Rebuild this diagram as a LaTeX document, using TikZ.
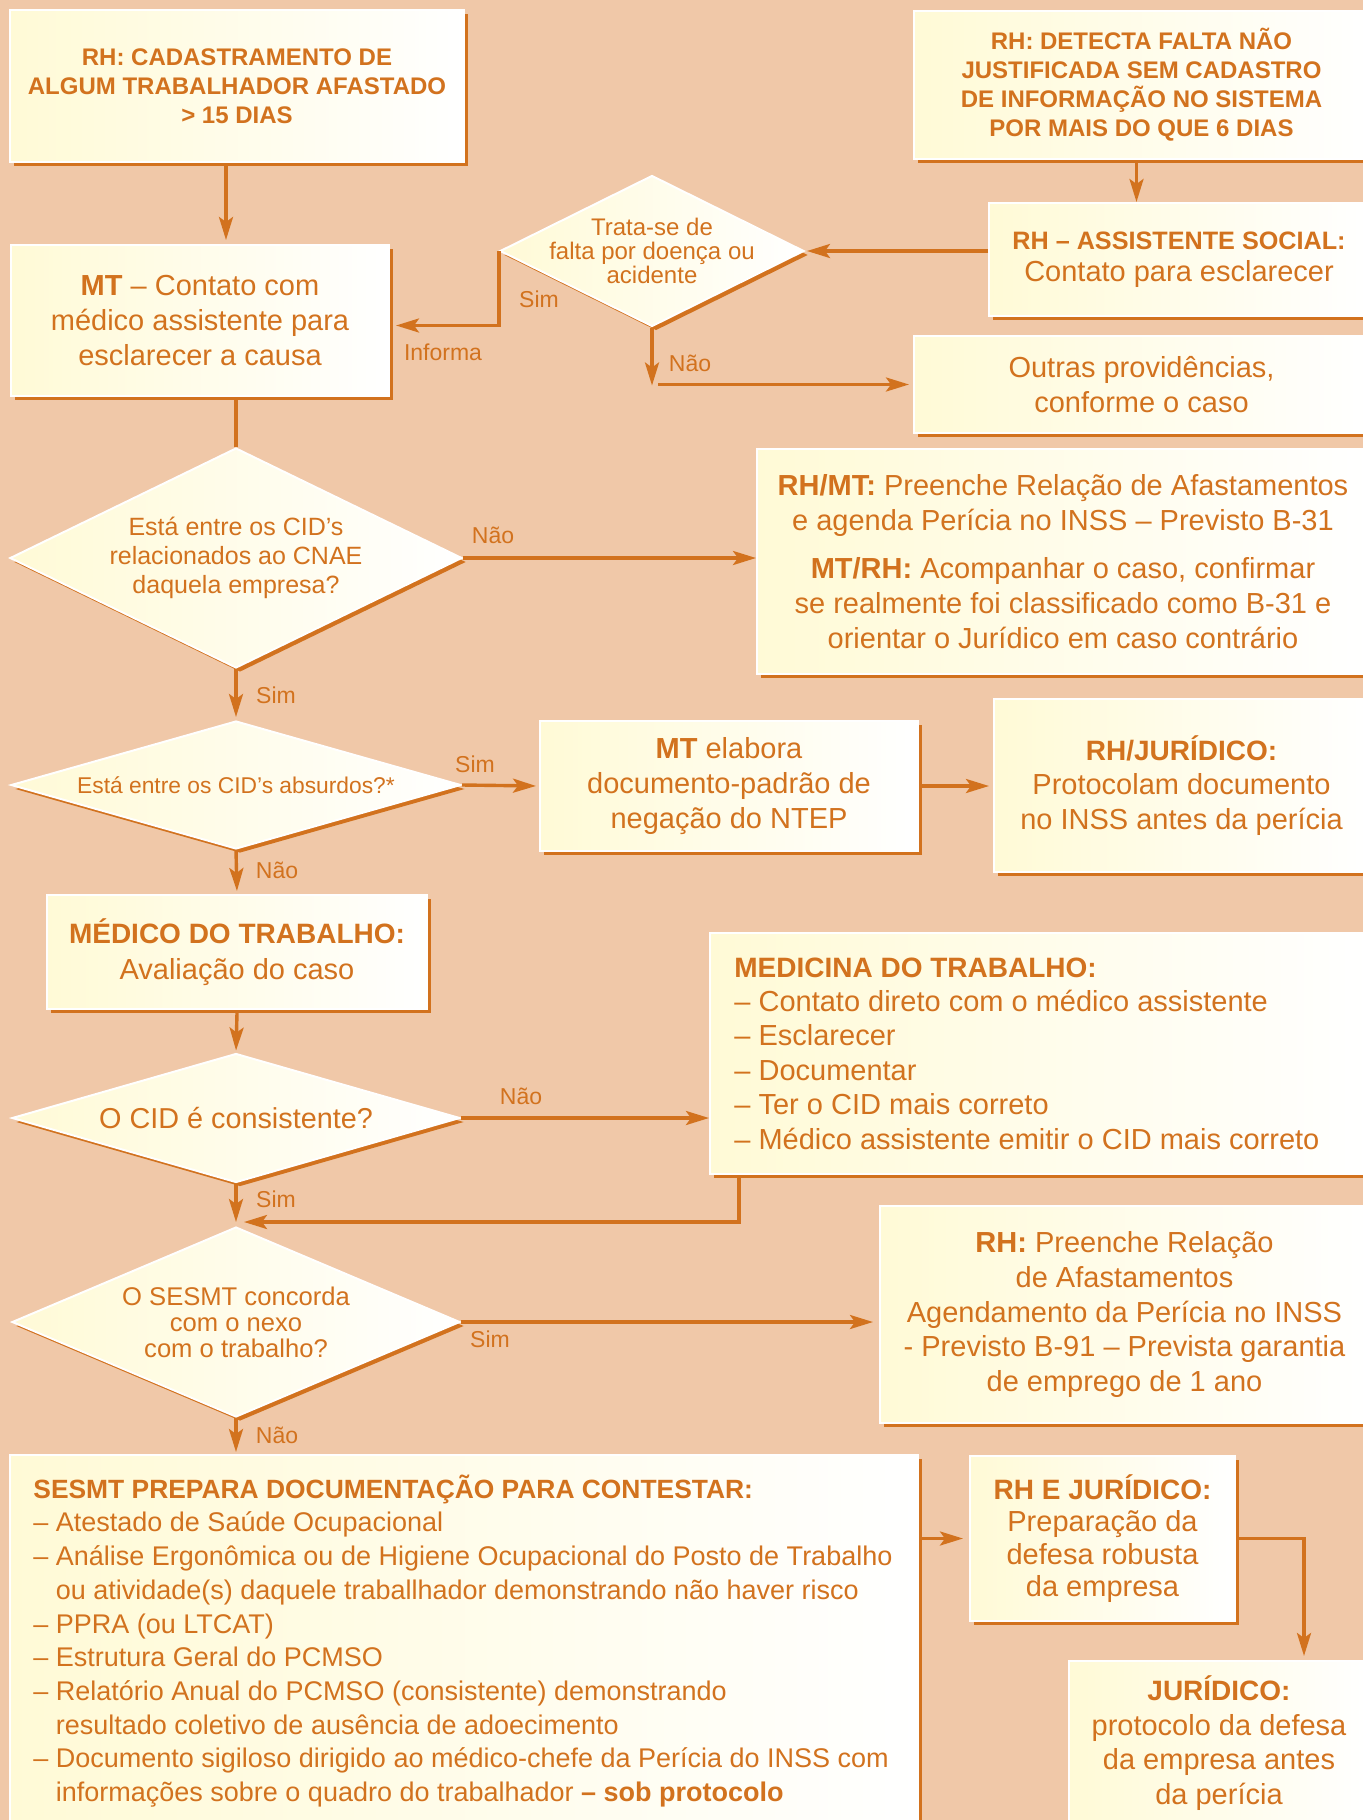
\documentclass[tikz,border=0pt]{standalone}
\usepackage{fontspec}
\setmainfont{Liberation Sans}
\usetikzlibrary{shapes.geometric,arrows.meta,shadows}

\definecolor{bgc}{HTML}{F0C8A8}
\definecolor{orng}{HTML}{D2721E}
\definecolor{ylw}{HTML}{FFFAD6}

\newcommand{\capsfont}{\fontsize{12}{14.5}\selectfont\bfseries}
\newcommand{\boxfont}{\fontsize{14.5}{17.4}\selectfont}

\tikzset{
  box/.style={draw=white, line width=1pt, left color=ylw, right color=white,
    text=orng, align=center, inner sep=0pt, anchor=north west,
    drop shadow={shadow xshift=2pt, shadow yshift=-2pt, fill=orng, opacity=1}},
  dec/.style={diamond, draw=white, line width=1pt, left color=ylw, right color=white,
    inner sep=0pt,
    drop shadow={shadow xshift=2pt, shadow yshift=-2pt, fill=orng, opacity=1}},
  dectext/.style={text=orng, align=center, inner sep=0pt},
  listtext/.style={text=orng, align=left, inner sep=0pt, anchor=west},
  lbl/.style={text=orng, inner sep=0pt, font=\fontsize{11.5}{13}\selectfont},
  arr/.style={draw=orng, line width=1.7pt, -{Stealth[length=11.5pt,width=7pt,inset=2.5pt]}},
  ln/.style={draw=orng, line width=1.7pt}
}

\begin{document}
\begin{tikzpicture}[x=0.5pt, y=-0.5pt]
  \useasboundingbox (0,0) rectangle (1363,1820);
  \clip (0,0) rectangle (1363,1820);
  \fill[bgc] (0,0) rectangle (1363,1820);

  % top part
  \node[box, font=\capsfont, minimum width=227pt, minimum height=76pt] (cadastro) at (9,9)
    {RH: CADASTRAMENTO DE\\ALGUM TRABALHADOR AFASTADO\\> 15 DIAS};
  \node[box, font=\capsfont, minimum width=227.5pt, minimum height=74pt] (detecta) at (913,10)
    {RH: DETECTA FALTA NÃO\\JUSTIFICADA SEM CADASTRO\\DE INFORMAÇÃO NO SISTEMA\\POR MAIS DO QUE 6 DIAS};
  \node[box, font=\fontsize{14.5}{16.25}\selectfont, minimum width=190pt, minimum height=56.5pt] (assist) at (988,202)
    {{\fontsize{12.6}{14}\selectfont\bfseries RH – ASSISTENTE SOCIAL:}\\Contato para esclarecer};
  \node[box, font=\boxfont, minimum width=189pt, minimum height=75.5pt] (contato) at (10,244)
    {\textbf{MT} – Contato com\\médico assistente para\\esclarecer a causa};
  \node[box, font=\boxfont, minimum width=227.5pt, minimum height=48.5pt] (outras) at (913,335)
    {Outras providências,\\conforme o caso};
  \node[dec, minimum width=152pt, minimum height=75.5pt] (trata) at (652,251) {};
  \node[dectext, font=\fontsize{12}{12.2}\selectfont] (tratatxt) at (trata)
    {Trata-se de\\falta por doença ou\\acidente};

  % CID questions
  \node[dec, minimum width=226pt, minimum height=110pt] (cnae) at (236,558) {};
  \node[dectext, font=\fontsize{12.5}{14.5}\selectfont] (cnaetxt) at (cnae)
    {Está entre os CID’s\\relacionados ao CNAE\\daquela empresa?};
  \node[box, font=\boxfont, minimum width=306pt, minimum height=112.5pt] (preenche) at (756,448)
    {\textbf{RH/MT:} Preenche Relação de Afastamentos\\e agenda Perícia no INSS – Previsto B-31\\[7pt]
     \textbf{MT/RH:} Acompanhar o caso, confirmar\\se realmente foi classificado como B-31 e\\orientar o Jurídico em caso contrário};
  \node[dec, minimum width=225pt, minimum height=64pt] (absurdo) at (236,785) {};
  \node[dectext, font=\fontsize{11.4}{13}\selectfont] (absurdotxt) at (absurdo)
    {Está entre os CID’s absurdos?*};
  \node[box, font=\boxfont, minimum width=189pt, minimum height=65pt] (elabora) at (539,720)
    {\textbf{MT} elabora\\documento-padrão de\\negação do NTEP};
  \node[box, font=\boxfont, minimum width=187.5pt, minimum height=86.5pt] (protocolam) at (993,698)
    {{\fontsize{14}{17.4}\selectfont\bfseries RH/JURÍDICO:}\\Protocolam documento\\no INSS antes da perícia};

  % evaluation
  \node[box, font=\fontsize{14.5}{18}\selectfont, minimum width=190pt, minimum height=57pt] (avalia) at (46,894)
    {{\fontsize{14}{18}\selectfont\bfseries MÉDICO DO TRABALHO:}\\Avaliação do caso};
  \node[dec, minimum width=224pt, minimum height=64.5pt] (consiste) at (236,1118) {};
  \node[dectext, font=\fontsize{14.4}{17}\selectfont] (consistetxt) at (consiste)
    {O CID é consistente?};
  \node[box, minimum width=329.5pt, minimum height=120.5pt] (medicina) at (709,932) {};
  \node[listtext, font=\fontsize{14.5}{17.2}\selectfont] (medicinatxt) at ([xshift=12.5pt]medicina.west)
    {{\fontsize{14}{17.2}\selectfont\bfseries MEDICINA DO TRABALHO:}\\– Contato direto com o médico assistente\\– Esclarecer\\– Documentar\\– Ter o CID mais correto\\– Médico assistente emitir o CID mais correto};
  \node[dec, minimum width=224pt, minimum height=95pt] (nexo) at (236,1322) {};
  \node[dectext, font=\fontsize{12.8}{13}\selectfont] (nexotxt) at (nexo)
    {O SESMT concorda\\com o nexo\\com o trabalho?};
  \node[box, font=\boxfont, minimum width=244.5pt, minimum height=108.5pt] (agenda) at (879,1205)
    {\textbf{RH:} Preenche Relação\\de Afastamentos\\Agendamento da Perícia no INSS\\- Previsto B-91 – Prevista garantia\\de emprego de 1 ano};

  % defence
  \node[box, minimum width=454pt, minimum height=186pt] (contestar) at (9,1454) {};
  \node[listtext, font=\fontsize{13.5}{16.85}\selectfont] (contestartxt) at ([xshift=12pt]contestar.west)
    {{\fontsize{13.2}{16.85}\selectfont\bfseries SESMT PREPARA DOCUMENTAÇÃO PARA CONTESTAR:}\\
     – Atestado de Saúde Ocupacional\\
     – Análise Ergonômica ou de Higiene Ocupacional do Posto de Trabalho\\
     \phantom{– }ou atividade(s) daquele traballhador demonstrando não haver risco\\
     – PPRA (ou LTCAT)\\
     – Estrutura Geral do PCMSO\\
     – Relatório Anual do PCMSO (consistente) demonstrando\\
     \phantom{– }resultado coletivo de ausência de adoecimento\\
     – Documento sigiloso dirigido ao médico-chefe da Perícia do INSS com\\
     \phantom{– }informações sobre o quadro do trabalhador \textbf{– sob protocolo}};
  \node[box, font=\fontsize{14.5}{16.25}\selectfont, minimum width=132.5pt, minimum height=82.5pt] (defesa) at (969,1455)
    {{\fontsize{14}{16.25}\selectfont\bfseries RH E JURÍDICO:}\\Preparação da\\defesa robusta\\da empresa};
  \node[box, font=\boxfont, minimum width=150pt, minimum height=82pt] (juridico) at (1068,1660)
    {{\fontsize{14}{17.4}\selectfont\bfseries JURÍDICO:}\\protocolo da defesa\\da empresa antes\\da perícia};

  % labels
  \node[lbl] (simtrata) at (539,299) {Sim};
  \node[lbl] (informa) at (443,352) {Informa};
  \node[lbl] (naotrata) at (690,363) {Não};
  \node[lbl] (naocnae) at (493,535) {Não};
  \node[lbl] (simcnae) at (276,695) {Sim};
  \node[lbl] (simabsurdo) at (475,764) {Sim};
  \node[lbl] (naoabsurdo) at (277,870) {Não};
  \node[lbl] (naoconsiste) at (521,1096) {Não};
  \node[lbl] (simconsiste) at (276,1199) {Sim};
  \node[lbl] (simnexo) at (490,1339) {Sim};
  \node[lbl] (naonexo) at (277,1435) {Não};

  % arrows between nodes
  \coordinate (naofim) at ([yshift=-29pt]trata.south);
  \draw[arr, shorten >=2pt] ([xshift=-5.5pt]cadastro.south) -- ([xshift=-5.5pt]cadastro.south |- contato.north);
  \draw[arr] ([xshift=-2.5pt]detecta.south) -- ([xshift=-2.5pt]detecta.south |- assist.north);
  \draw[arr, shorten >=1pt] (assist.west |- trata.east) -- (trata.east);
  \draw[arr] (trata.west) |- ([xshift=3pt,yshift=-2.5pt]contato.east);
  \draw[arr] (trata.south) -- (naofim);
  \draw[arr, shorten >=2pt] ([xshift=3pt]naofim |- outras.west) -- (outras.west);
  \draw[ln] (contato.south -| cnae.north) -- (cnae.north);
  \draw[arr, shorten >=1.5pt] (cnae.south) -- (absurdo.north);
  \draw[arr] (cnae.east) -- (cnae.east -| preenche.west);
  \draw[arr, shorten >=1.5pt] (absurdo.east) -- (elabora.west);
  \draw[arr, shorten >=2pt] ([xshift=1.5pt]elabora.east) -- (elabora.east -| protocolam.west);
  \draw[arr, shorten >=1.5pt] (absurdo.south) -- (avalia.north);
  \draw[arr, shorten >=1pt] ([yshift=-1.5pt]avalia.south) -- (consiste.north);
  \draw[arr] (consiste.east) -- (consiste.east -| medicina.west);
  \draw[arr] ([xshift=15pt]medicina.south west) |- ([xshift=4pt,yshift=2pt]nexo.north);
  \draw[arr] (consiste.south) -- ([yshift=2pt]nexo.north);
  \draw[arr, shorten >=3pt] (nexo.east) -- (nexo.east -| agenda.west);
  \draw[arr, shorten >=1pt] (nexo.south) -- (nexo.south |- contestar.north);
  \draw[arr, shorten >=3pt] ([xshift=1.5pt]contestar.east |- defesa.west) -- (defesa.west);
  \draw[arr, shorten >=2pt] ([xshift=1.5pt]defesa.east) -| ([xshift=42.5pt]juridico.north);
\end{tikzpicture}
\end{document}
